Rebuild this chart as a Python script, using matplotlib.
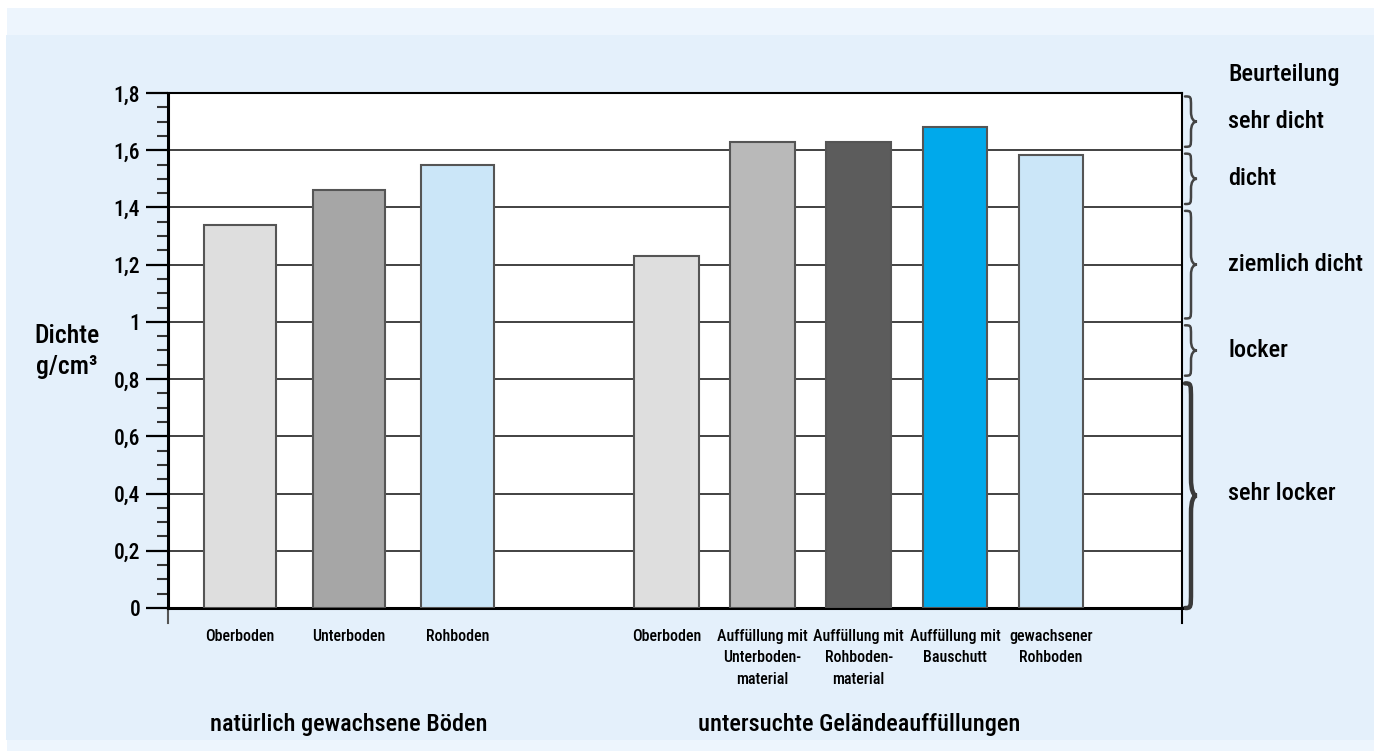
import numpy as np
import matplotlib.pyplot as plt
from matplotlib import font_manager
from matplotlib.path import Path
from matplotlib.patches import PathPatch, Rectangle
from matplotlib.ticker import MultipleLocator
import matplotlib.transforms as mtransforms

# data
natural_labels = ['Oberboden', 'Unterboden', 'Rohboden']
natural_values = [1.34, 1.46, 1.55]
fill_labels = ['Oberboden', 'Auffüllung mit\nUnterboden-\nmaterial',
               'Auffüllung mit\nRohboden-\nmaterial', 'Auffüllung mit\nBauschutt',
               'gewachsener\nRohboden']
fill_values = [1.23, 1.63, 1.63, 1.68, 1.585]
group_titles = ['natürlich gewachsene Böden', 'untersuchte Geländeauffüllungen']
natural_colors = ['#dedede', '#a6a6a6', '#cbe6f8']
fill_colors = ['#dedede', '#b9b9b9', '#5c5c5c', '#00a9eb', '#cbe6f8']
ytick_values = [0, 0.2, 0.4, 0.6, 0.8, 1.0, 1.2, 1.4, 1.6, 1.8]
ytick_labels = ['0', '0,2', '0,4', '0,6', '0,8', '1', '1,2', '1,4', '1,6', '1,8']
class_bounds = [0, 0.8, 1.0, 1.4, 1.6, 1.8]
class_names = ['sehr locker', 'locker', 'ziemlich dicht', 'dicht', 'sehr dicht']

# font: a narrow sans if available
names = {f.name for f in font_manager.fontManager.ttflist}
fam = 'DejaVu Sans'
for cand in ['Liberation Sans Narrow', 'Roboto Condensed', 'DejaVu Sans Condensed']:
    if cand in names:
        fam = cand
        break
plt.rcParams['font.family'] = [fam, 'DejaVu Sans']
plt.rcParams['font.weight'] = 500

W, H = 1374, 751
fig = plt.figure(figsize=(W / 100, H / 100), dpi=100)
fig.patch.set_facecolor('white')

# background in pixel coords
bg = fig.add_axes([0, 0, 1, 1], zorder=-1)
bg.set_xlim(0, W)
bg.set_ylim(H, 0)
bg.axis('off')
bg.add_patch(Rectangle((6, 35), W - 6, 705, color='#e4f0fb', lw=0))
bg.add_patch(Rectangle((7, 8), W - 7, 27, color='#edf5fd', lw=0))
bg.add_patch(Rectangle((7, 740), W - 7, 11, color='#edf5fd', lw=0))

ax = fig.add_axes([168 / W, 1 - 608 / H, 1014 / W, 515 / H])
ax.set_facecolor('white')

# bar layout
x_nat = 72.2 + 108.6 * np.arange(len(natural_values))
x_fill = 498.3 + 96.2 * np.arange(len(fill_values))
ax.bar(x_nat, natural_values, width=72.5, color=natural_colors,
       edgecolor='#555555', linewidth=1.5, zorder=3)
ax.bar(x_fill, fill_values, width=64.5, color=fill_colors,
       edgecolor='#555555', linewidth=1.5, zorder=3)

ax.set_xlim(0, 1014)
ax.set_ylim(0, 1.8)
ax.set_xticks(list(x_nat) + list(x_fill))
ax.set_xticklabels(natural_labels + fill_labels, fontsize=11.5, linespacing=1.55, va='top')
ax.tick_params(axis='x', length=0, pad=15)

ax.set_yticks(ytick_values)
ax.set_yticklabels(ytick_labels, fontsize=15.5)
ax.yaxis.set_minor_locator(MultipleLocator(0.05))
ax.tick_params(axis='y', which='major', length=16, width=1.6, color='black', pad=4)
ax.tick_params(axis='y', which='minor', length=8, width=1.5, color='#333333')

ax.grid(axis='y', color='#333333', linewidth=1.3, zorder=1)
ax.set_axisbelow(True)
for s in ['left', 'bottom']:
    ax.spines[s].set_linewidth(2.2)
ax.spines['right'].set_linewidth(1.5)
ax.spines['top'].set_linewidth(1.5)

# spines run a little below zero
ax.plot([0, 0], [0, -0.053], color='#555555', lw=1.5, clip_on=False)
ax.plot([1014, 1014], [0, -0.053], color='black', lw=1.5, clip_on=False)

# y label
bg.text(67, 343, 'Dichte', fontsize=18.5, ha='center', va='baseline')
bg.text(67, 374, 'g/cm³', fontsize=18.5, ha='center', va='baseline')

# group titles
tr_x = mtransforms.blended_transform_factory(ax.transData, bg.transData)
bg.text(x_nat.mean(), 724, group_titles[0], fontsize=17.5, ha='center', va='center', transform=tr_x)
bg.text(x_fill.mean(), 724, group_titles[1], fontsize=17.5, ha='center', va='center', transform=tr_x)

# braces
tr_y = mtransforms.blended_transform_factory(bg.transData, ax.transData)


def brace(y0, y1, x0=1185, w=12, r=0.035, lw=1.8, color='#444444'):
    xm = x0 + w / 2
    ym = (y0 + y1) / 2
    verts = [(x0, y1),
             (xm, y1), (xm, y1), (xm, y1 - r),
             (xm, ym + r),
             (xm, ym + r * 0.3), (x0 + w * 0.7, ym), (x0 + w, ym),
             (x0 + w * 0.7, ym), (xm, ym - r * 0.3), (xm, ym - r),
             (xm, y0 + r),
             (xm, y0), (xm, y0), (x0, y0)]
    codes = [Path.MOVETO] + [Path.CURVE4] * 3 + [Path.LINETO] + [Path.CURVE4] * 6 + \
            [Path.LINETO] + [Path.CURVE4] * 3
    p = PathPatch(Path(verts, codes), transform=tr_y, fill=False,
                  lw=lw, color=color, clip_on=False, capstyle='round')
    bg.add_patch(p)


gap = 0.012
for i, name in enumerate(class_names):
    lo, hi = class_bounds[i], class_bounds[i + 1]
    if i == 0:
        brace(lo, hi - 0.015, r=0.06, lw=3.2, color='#3a3a3a')
    else:
        brace(lo + gap, hi - gap)
    yc = (lo + hi) / 2
    bg.text(1228, yc, name, fontsize=17.5, ha='left', va='center', transform=tr_y)

bg.text(1228, 75, 'Beurteilung', fontsize=17.5, ha='left', va='center')

fig.savefig('out.png', dpi=100)
